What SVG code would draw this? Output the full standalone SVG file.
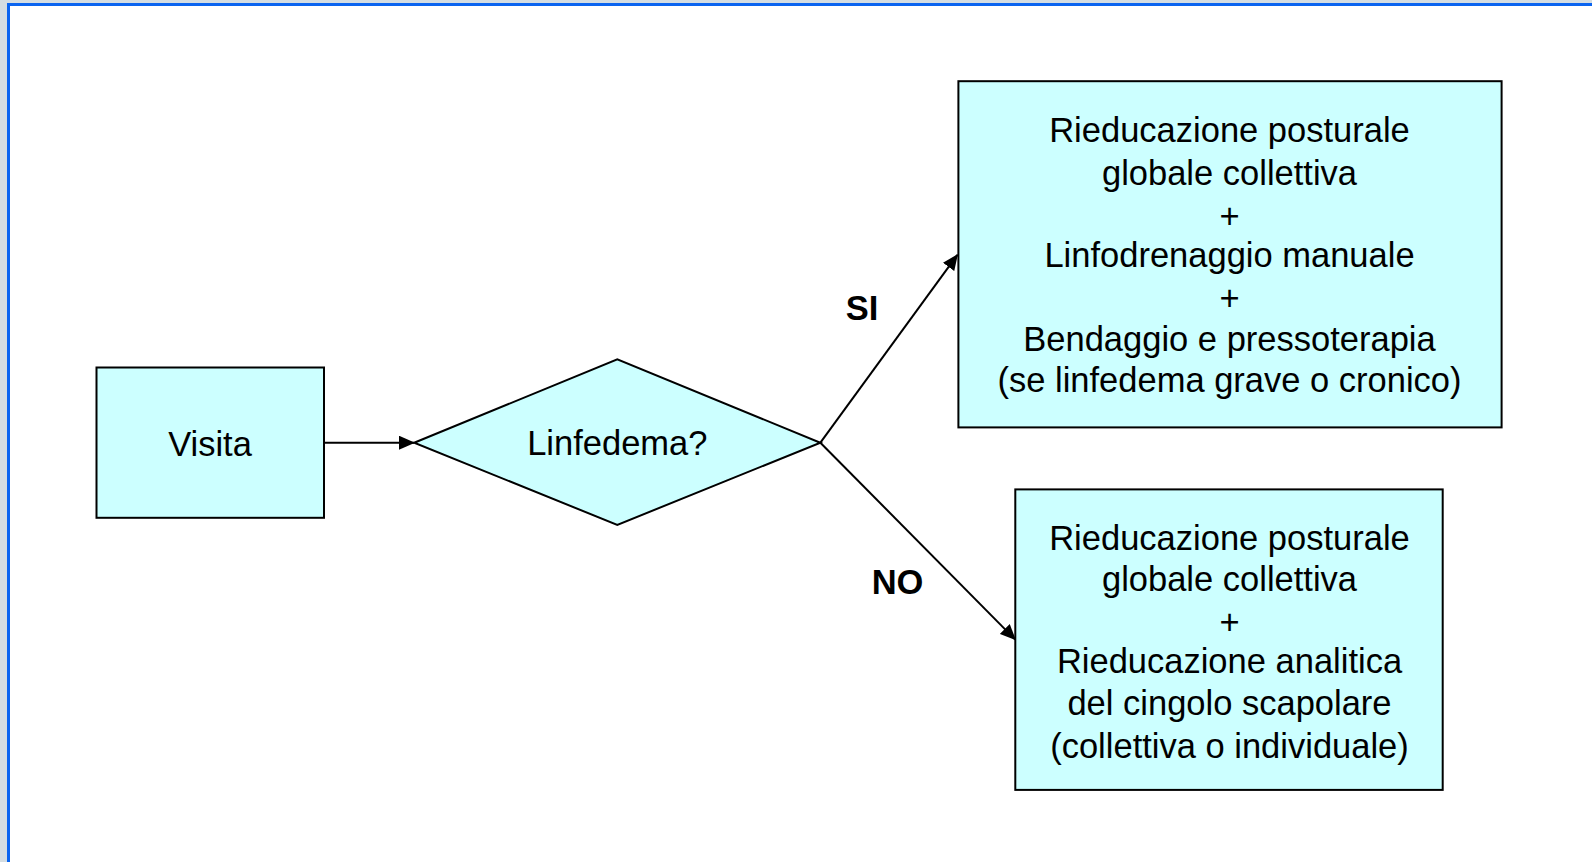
<svg xmlns="http://www.w3.org/2000/svg" width="1592" height="862" viewBox="0 0 1592 862">
<style>
.node{fill:#ccffff;stroke:#000;stroke-width:2}
.t{font-family:"Liberation Sans",Arial,sans-serif;font-size:34.5px;fill:#000;text-anchor:middle}
.lb{font-family:"Liberation Sans",Arial,sans-serif;font-size:34.5px;font-weight:bold;fill:#000;text-anchor:middle}
.c{stroke:#000;stroke-width:2;fill:none;marker-end:url(#ah)}
</style>
<defs>
<marker id="ah" viewBox="0 0 16 14" refX="15" refY="7" markerWidth="16" markerHeight="14" markerUnits="userSpaceOnUse" orient="auto">
<path d="M0,0 L16,7 L0,14 Z" fill="#000"/>
</marker>
</defs>
<rect x="0" y="0" width="1592" height="862" fill="#d4dde2"/>
<rect x="9" y="5" width="1583" height="857" fill="#ffffff"/>
<path d="M8.5,862 V4.5 H1592" fill="none" stroke="#0a64f0" stroke-width="3"/>
<g id="connectors">
<line class="c" x1="324" y1="442.7" x2="414" y2="442.7"/>
<line class="c" x1="820.4" y1="442.7" x2="957.4" y2="254.8"/>
<line class="c" x1="820.4" y1="442.7" x2="1015.3" y2="639.6"/>
</g>
<g id="visita">
<rect class="node" x="96.5" y="367.5" width="227.5" height="150.3"/>
<text class="t" x="210" y="456">Visita</text>
</g>
<g id="linfedema">
<polygon class="node" points="414.2,442.7 617.3,359.4 820.4,442.7 617.3,524.9"/>
<text class="t" x="617.3" y="455">Linfedema?</text>
</g>
<g id="si-box">
<rect class="node" x="958.4" y="81.2" width="543.2" height="346.2"/>
<text class="t" x="1229.5" y="142">Rieducazione posturale</text>
<text class="t" x="1229.5" y="185">globale collettiva</text>
<text class="t" x="1229.5" y="227.5">+</text>
<text class="t" x="1229.5" y="267">Linfodrenaggio manuale</text>
<text class="t" x="1229.5" y="310">+</text>
<text class="t" x="1229.5" y="350.5">Bendaggio e pressoterapia</text>
<text class="t" x="1229.5" y="392">(se linfedema grave o cronico)</text>
</g>
<g id="no-box">
<rect class="node" x="1015.3" y="489.4" width="427.4" height="300.5"/>
<text class="t" x="1229.5" y="549.5">Rieducazione posturale</text>
<text class="t" x="1229.5" y="591">globale collettiva</text>
<text class="t" x="1229.5" y="633.5">+</text>
<text class="t" x="1229.5" y="673">Rieducazione analitica</text>
<text class="t" x="1229.5" y="715">del cingolo scapolare</text>
<text class="t" x="1229.5" y="757.5">(collettiva o individuale)</text>
</g>
<g id="labels">
<text class="lb" x="862" y="320">SI</text>
<text class="lb" x="897.5" y="594">NO</text>
</g>
</svg>
